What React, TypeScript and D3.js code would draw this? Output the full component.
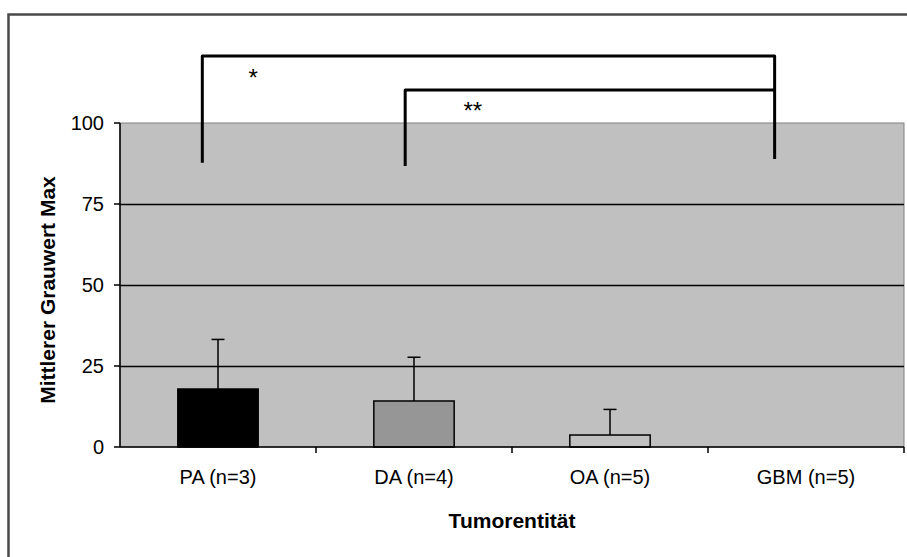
import React from "react";
import * as d3 from "d3";

const categories = ["PA (n=3)", "DA (n=4)", "OA (n=5)", "GBM (n=5)"];
const means = [17.9, 14.2, 3.7, 0];
const sds = [15.3, 13.5, 7.9, 0];
const barFills = ["#000000", "#969696", "#c0c0c0", "#c0c0c0"];
const yTicks = [0, 25, 50, 75, 100];
const yTitle = "Mittlerer Grauwert Max";
const xTitle = "Tumorentität";

// significance brackets: from category, to category, horizontal level (data units), leg ends (data units), leg offsets (band fraction)
const brackets = [
  { from: 0, to: 3, level: 120.7, legFrom: 87.7, legTo: 88.9, offFrom: -0.08, offTo: -0.16, label: "*", labelX: 0.18, labelY: 111.4 },
  { from: 1, to: 3, level: 110.2, legFrom: 86.7, legTo: 110.2, offFrom: -0.045, offTo: -0.16, label: "**", labelX: 0.3, labelY: 101.2 },
];

const W = 907;
const H = 557;
const plot = { left: 120, right: 904, top: 123, bottom: 447 };

export default function App() {
  const x = d3
    .scaleBand<number>()
    .domain(categories.map((_, i) => i))
    .range([plot.left, plot.right])
    .paddingInner(0)
    .paddingOuter(0);
  const y = d3.scaleLinear().domain([0, 100]).range([plot.bottom, plot.top]);
  const bw = x.bandwidth();
  const barW = bw * 0.41;
  const center = (i: number) => (x(i) as number) + bw / 2;
  const font = "'Liberation Sans', Arial, sans-serif";
  const crisp = (v: number) => Math.round(v) + 0.5;

  return (
    <svg
      width={W}
      height={H}
      style={{ position: "fixed", left: 0, top: 0, background: "#fff" }}
    >
      {/* outer chart frame */}
      <rect x={8.5} y={14.5} width={1000} height={1000} fill="#fff" stroke="#4a4a4a" strokeWidth={2.5} />

      {/* plot area */}
      <rect
        x={plot.left}
        y={plot.top}
        width={plot.right - plot.left}
        height={plot.bottom - plot.top}
        fill="#c0c0c0"
        stroke="#808080"
        strokeWidth={1}
      />

      {/* gridlines */}
      {yTicks
        .filter((t) => t > 0 && t < 100)
        .map((t) => (
          <line key={t} x1={plot.left} x2={plot.right} y1={crisp(y(t))} y2={crisp(y(t))} stroke="#000" strokeWidth={1.5} />
        ))}

      {/* bars */}
      {means.map((m, i) =>
        m > 0 ? (
          <rect
            key={i}
            x={center(i) - barW / 2}
            y={y(m)}
            width={barW}
            height={y(0) - y(m)}
            fill={barFills[i]}
            stroke="#000"
            strokeWidth={1.5}
          />
        ) : null
      )}

      {/* error bars */}
      {means.map((m, i) =>
        sds[i] > 0 ? (
          <g key={i} stroke="#000" strokeWidth={1.5}>
            <line x1={center(i)} x2={center(i)} y1={y(m)} y2={y(m + sds[i])} />
            <line x1={center(i) - 6.5} x2={center(i) + 6.5} y1={y(m + sds[i])} y2={y(m + sds[i])} />
          </g>
        ) : null
      )}

      {/* y axis */}
      <line x1={plot.left} x2={plot.left} y1={plot.top} y2={plot.bottom} stroke="#000" strokeWidth={1.5} />
      {yTicks.map((t) => (
        <g key={t}>
          <line x1={plot.left - 6} x2={plot.left} y1={y(t)} y2={y(t)} stroke="#000" strokeWidth={1.5} />
          <text
            x={104}
            y={y(t)}
            dy="0.36em"
            textAnchor="end"
            fontFamily={font}
            fontSize={20}
            fill="#000"
          >
            {t}
          </text>
        </g>
      ))}

      {/* x axis */}
      <line x1={plot.left} x2={plot.right} y1={plot.bottom} y2={plot.bottom} stroke="#000" strokeWidth={1.5} />
      {categories.map((c, i) => (
        <g key={c}>
          <line
            x1={(x(i) as number) + bw}
            x2={(x(i) as number) + bw}
            y1={plot.bottom}
            y2={plot.bottom + 6}
            stroke="#000"
            strokeWidth={1.5}
          />
          <text
            x={center(i)}
            y={484}
            textAnchor="middle"
            fontFamily={font}
            fontSize={20}
            fill="#000"
          >
            {c}
          </text>
        </g>
      ))}

      {/* axis titles */}
      <text
        x={(plot.left + plot.right) / 2}
        y={528}
        textAnchor="middle"
        fontFamily={font}
        fontWeight="bold"
        fontSize={21}
        fill="#000"
      >
        {xTitle}
      </text>
      <text
        transform={`translate(55, ${(plot.top + plot.bottom) / 2 + 5}) rotate(-90)`}
        textAnchor="middle"
        fontFamily={font}
        fontWeight="bold"
        fontSize={21}
        fill="#000"
      >
        {yTitle}
      </text>

      {/* significance brackets */}
      {brackets.map((b, k) => {
        const x1 = center(b.from) + b.offFrom * bw;
        const x2 = center(b.to) + b.offTo * bw;
        const yl = y(b.level);
        return (
          <g key={k}>
            <path
              d={`M${x1},${y(b.legFrom)} L${x1},${yl} L${x2},${yl} L${x2},${y(b.legTo)}`}
              fill="none"
              stroke="#000"
              strokeWidth={3}
              strokeLinejoin="round"
            />
            <text
              x={center(b.from) + b.labelX * bw}
              y={y(b.labelY)}
              textAnchor="middle"
              fontFamily={font}
              fontSize={24}
              fill="#000"
            >
              {b.label}
            </text>
          </g>
        );
      })}
    </svg>
  );
}
